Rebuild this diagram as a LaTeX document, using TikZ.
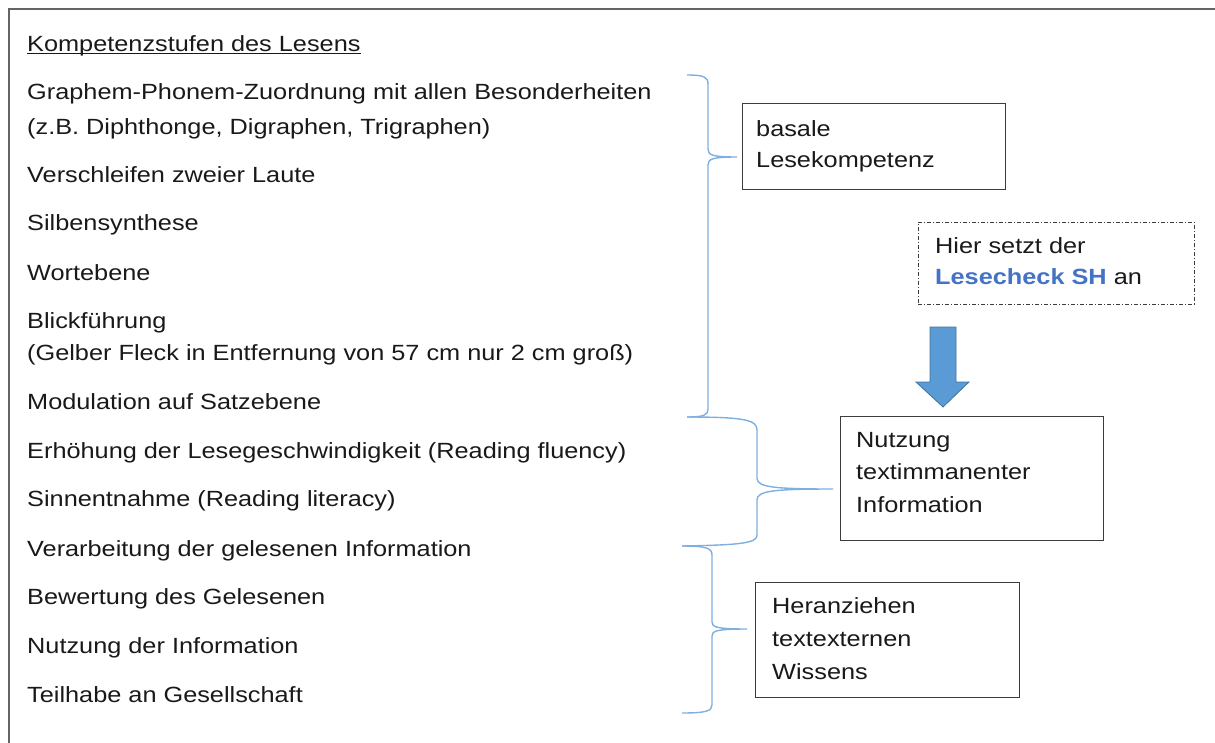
\documentclass[tikz,border=0pt]{standalone}
\usepackage{fontspec}
\setmainfont{Liberation Sans}[FakeStretch=1.15]
\definecolor{txtc}{RGB}{25,25,25}
\definecolor{framec}{RGB}{100,100,100}
\definecolor{boxc}{RGB}{60,60,60}
\definecolor{bracec}{RGB}{125,175,225}
\definecolor{arrowfill}{RGB}{91,155,213}
\definecolor{arrowdraw}{RGB}{65,113,156}
\definecolor{hlblue}{RGB}{68,114,196}
\tikzset{
  txt/.style={inner sep=0pt, anchor=base west, text=txtc, font=\fontsize{22}{26}\selectfont},
  boxtxt/.style={inner sep=0pt, anchor=base west, text=txtc, align=left},
  box/.style={draw=boxc, line width=1.3pt, anchor=north west, inner sep=0pt},
  dashbox/.style={draw=boxc, line width=0.9pt, dash pattern=on 4pt off 2pt on 1pt off 2pt, anchor=north west, inner sep=0pt},
  bracestyle/.style={draw=bracec, line width=1.4pt},
  framestyle/.style={draw=framec, line width=2.2pt},
  blockarrow/.style={fill=arrowfill, draw=arrowdraw, line width=0.8pt}
}
\begin{document}
\begin{tikzpicture}[x=1pt,y=-1pt]
\useasboundingbox (0,0) rectangle (1215,742);
% frame (top and left edges only)
\draw[framestyle] (1216,9) -- (9,9) -- (9,743);
% title
\node[txt] (title) at (27,51) {Kompetenzstufen des Lesens};
\draw[txtc, line width=1.3pt] ([yshift=-2.5pt]title.base west) -- ([yshift=-2.5pt]title.base east);
% list
\node[txt] (l1)  at (27,99)  {Graphem-Phonem-Zuordnung mit allen Besonderheiten};
\node[txt] (l1b) at (27,134) {(z.B. Diphthonge, Digraphen, Trigraphen)};
\node[txt] (l2)  at (27,182) {Verschleifen zweier Laute};
\node[txt] (l3)  at (27,230) {Silbensynthese};
\node[txt] (l4)  at (27,280) {Wortebene};
\node[txt] (l5)  at (27,328) {Blickführung};
\node[txt] (l5b) at (27,360) {(Gelber Fleck in Entfernung von 57 cm nur 2 cm groß)};
\node[txt] (l6)  at (27,409) {Modulation auf Satzebene};
\node[txt] (l7)  at (27,458) {Erhöhung der Lesegeschwindigkeit (Reading fluency)};
\node[txt] (l8)  at (27,506) {Sinnentnahme (Reading literacy)};
\node[txt] (l9)  at (27,556) {Verarbeitung der gelesenen Information};
\node[txt] (l10) at (27,604) {Bewertung des Gelesenen};
\node[txt] (l11) at (27,653) {Nutzung der Information};
\node[txt] (l12) at (27,702) {Teilhabe an Gesellschaft};
% boxes (text node base = baseline of its last line)
\node[box, minimum width=263pt, minimum height=86pt] (b1) at (742,103) {};
\node[boxtxt, font=\fontsize{22}{30.5}\selectfont] (b1t) at (756,167) {basale\\Lesekompetenz};
\node[dashbox, minimum width=276pt, minimum height=82pt] (b0) at (918,222) {};
\node[boxtxt, font=\fontsize{22}{31}\selectfont] (b0t) at (935,284) {Hier setzt der\\{\bfseries\color{hlblue}Lesecheck SH} an};
\node[box, minimum width=263pt, minimum height=124pt] (b2) at (840,416) {};
\node[boxtxt, font=\fontsize{22}{32.5}\selectfont] (b2t) at (856,512) {Nutzung\\textimmanenter\\Information};
\node[box, minimum width=264pt, minimum height=115pt] (b3) at (755,582) {};
\node[boxtxt, font=\fontsize{22}{33}\selectfont] (b3t) at (772,679) {Heranziehen\\textexternen\\Wissens};
% block arrow
\draw[blockarrow] (930,327) -- (956,327) -- (956,382) -- (969,382) -- (943,407) -- (916,382) -- (930,382) -- cycle;
% braces
\coordinate (j1) at (687,417);
\coordinate (j2) at (682,546);
\draw[bracestyle] (687,75) .. controls (704,75) and (708,77) .. (708,84)
  -- (708,149) .. controls (708,155) and (712,157) .. (737,157)
  .. controls (712,157) and (708,159) .. (708,165)
  -- (708,409) .. controls (708,415) and (704,417) .. (j1);
\draw[bracestyle] (j1) .. controls (745,417) and (757,420) .. (757,430)
  -- (757,478) .. controls (757,487) and (772,489) .. (833,489)
  .. controls (772,489) and (757,491) .. (757,500)
  -- (757,535) .. controls (757,543) and (742,545) .. (j2);
\draw[bracestyle] (j2) .. controls (706,546) and (712,548) .. (712,555)
  -- (712,622) .. controls (712,627) and (716,629) .. (747,629)
  .. controls (716,629) and (712,631) .. (712,636)
  -- (712,705) .. controls (712,711) and (706,713) .. (682,713);
\end{tikzpicture}
\end{document}
